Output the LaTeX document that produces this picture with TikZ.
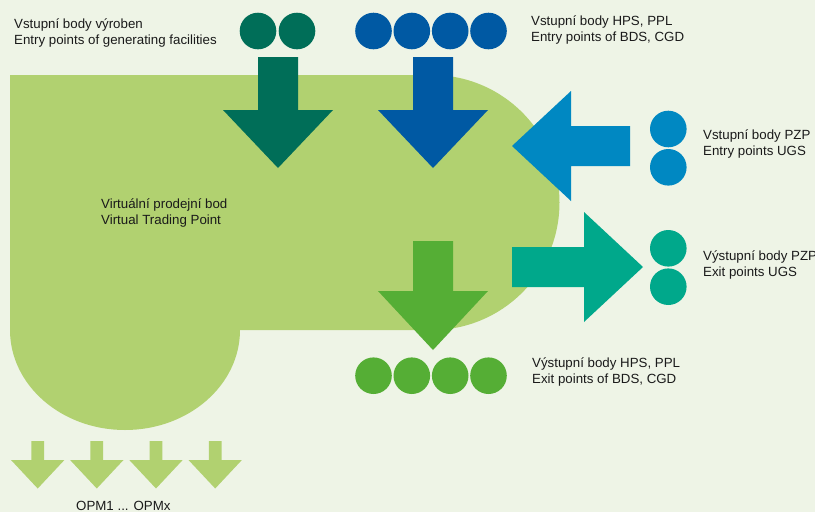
\documentclass[tikz,border=0pt]{standalone}
\usepackage{fontspec}
\setmainfont{Liberation Sans}
\definecolor{bgc}{HTML}{EEF4E6}
\definecolor{vtp}{HTML}{B1D170}
\definecolor{dkgreen}{HTML}{006E58}
\definecolor{blue1}{HTML}{0059A3}
\definecolor{cyan1}{HTML}{0088C2}
\definecolor{teal1}{HTML}{00A88B}
\definecolor{green1}{HTML}{55AE35}
\definecolor{txt}{HTML}{1A1A1A}
\begin{document}
\begin{tikzpicture}[x=1pt,y=-1pt,
  lbl/.style={anchor=north west,inner sep=0pt,align=left,text=txt,
    font=\fontsize{13.3}{15.6}\selectfont},
  dot/.style={circle,inner sep=0pt,minimum size=36.6pt}]
\useasboundingbox (0,0) rectangle (815,512);
\fill[bgc] (0,0) rectangle (815,512);
% main virtual trading point shape
\fill[vtp] (10,75) -- (432,75) arc[start angle=-90,end angle=90,radius=127.5]
  -- (240,330) arc[start angle=0,end angle=180,x radius=115,y radius=100] -- cycle;
% dark green entry (generating facilities)
\foreach \x [count=\i] in {258,297} \node[dot,fill=dkgreen] (g\i) at (\x,31) {};
\fill[dkgreen] (258,57) -- (298,57) -- (298,110) -- (333,110) -- (278,168)
  -- (223,110) -- (258,110) -- cycle;
% blue entry (HPS, PPL)
\foreach \x [count=\i] in {373.5,411.8,450.2,488.5} \node[dot,fill=blue1] (b\i) at (\x,31) {};
\fill[blue1] (413,57) -- (453,57) -- (453,110) -- (488,110) -- (433,168)
  -- (378,110) -- (413,110) -- cycle;
% cyan entry (UGS)
\node[dot,fill=cyan1] (c1) at (668.3,129) {};
\node[dot,fill=cyan1] (c2) at (668.3,167.3) {};
\fill[cyan1] (630,126) -- (571,126) -- (571,91) -- (512,146) -- (571,201)
  -- (571,166) -- (630,166) -- cycle;
% teal exit (UGS)
\node[dot,fill=teal1] (t1) at (668.3,248.3) {};
\node[dot,fill=teal1] (t2) at (668.3,286.7) {};
\fill[teal1] (512,247) -- (584,247) -- (584,212) -- (643,267) -- (584,322)
  -- (584,287) -- (512,287) -- cycle;
% green exit (HPS, PPL)
\fill[green1] (413,241) -- (453,241) -- (453,291) -- (488,291) -- (433,350)
  -- (378,291) -- (413,291) -- cycle;
\foreach \x [count=\i] in {373.5,411.8,450.2,488.5} \node[dot,fill=green1] (e\i) at (\x,375.7) {};
% OPM arrows
\foreach \c in {37.7,96.8,156,215.2}
  \fill[vtp] (\c-6.4,441) -- (\c+6.4,441) -- (\c+6.4,460) -- (\c+26.7,460)
    -- (\c,488.5) -- (\c-26.7,460) -- (\c-6.4,460) -- cycle;
% labels
\node[lbl] (l1) at (14,19) {Vstupní body výroben\\Entry points of generating facilities};
\node[lbl] (l2) at (531,15.5) {Vstupní body HPS, PPL\\Entry points of BDS, CGD};
\node[lbl] (l3) at (703,130) {Vstupní body PZP\\Entry points UGS};
\node[lbl] (l4) at (101,199) {Virtuální prodejní bod\\Virtual Trading Point};
\node[lbl] (l5) at (703,250.5) {Výstupní body PZP\\Exit points UGS};
\node[lbl] (l6) at (532,358) {Výstupní body HPS, PPL\\Exit points of BDS, CGD};
\node[lbl] (l7) at (76,501) {OPM1 ... OPMx};
\end{tikzpicture}
\end{document}
